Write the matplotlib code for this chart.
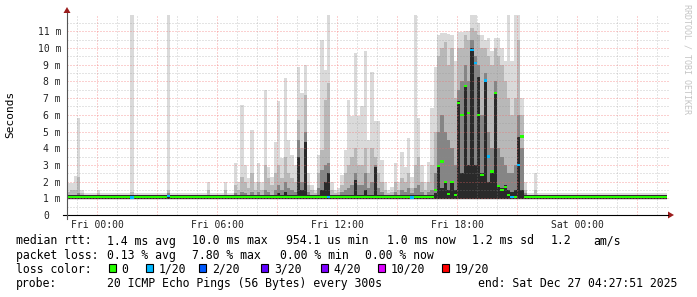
import numpy as np
import matplotlib
matplotlib.use("Agg")
from matplotlib import pyplot as plt
from matplotlib.patches import Polygon, Rectangle

# time axis: 10 minute bins, minutes relative to Fri 00:00
start_minute = -90
bin_minutes = 10
n_bins = 180

# quiet periods (ms)
base_top = 1.3
base_upper = 1.22
base_mid = 1.2
base_dark = 1.2
base_median = 1.1
# lower edge of every smoke layer (ms)
floor_top, floor_upper, floor_mid, floor_dark = 0.88, 0.95, 0.97, 0.98

# bins where the smoke leaves the baseline
spike_minute = [-90, -80, -70, -60, -50, 0, 100, 210, 330, 380] + list(range(410, 1290, 10)) + [1310]
spike_top = [1.9, 1.9, 2.35, 5.8, 1.5, 1.5, 12.0, 12.0, 2.0, 2.0,
             3.1, 2.0, 6.6, 3.0, 2.2, 5.1, 2.0, 3.1, 2.0, 7.5,
             2.9, 2.3, 4.4, 6.8, 3.4, 8.2, 4.5, 3.6, 3.0, 8.85,
             7.3, 9.0, 2.5, 1.8, 1.5, 3.6, 10.5, 8.7, 12.0, 2.0,
             1.5, 1.6, 2.4, 3.9, 6.9, 5.9, 9.7, 5.9, 6.5, 9.85,
             4.5, 8.55, 5.6, 5.6, 3.3, 2.0, 1.5, 1.7, 3.1, 2.0,
             3.8, 2.9, 4.6, 2.3, 12.0, 5.8, 3.0, 2.0, 3.2, 6.4,
             8.85, 10.75, 10.9, 10.9, 10.85, 10.75, 9.25, 10.95, 10.95, 11.0,
             11.0, 12.0, 12.0, 11.5, 10.8, 10.5, 10.6, 9.8, 10.6, 10.6,
             10.0, 9.25, 12.0, 9.25, 12.0, 12.0, 7.0, 2.0,
             2.5]
spike_upper = [1.4, 1.5, 1.5, 2.3, 1.3, 1.3, 1.4, 1.5, 1.5, 1.5,
               1.8, 1.5, 2.3, 2.0, 1.6, 2.5, 1.5, 2.0, 1.5, 3.0,
               2.2, 1.8, 2.5, 3.0, 2.2, 3.5, 2.5, 2.2, 2.0, 5.7,
               4.0, 7.2, 1.8, 1.5, 1.3, 2.5, 3.9, 6.9, 7.9, 1.5,
               1.3, 1.4, 1.8, 2.5, 3.0, 3.5, 4.0, 3.0, 3.0, 4.0,
               2.5, 4.0, 3.5, 2.5, 2.0, 1.5, 1.3, 1.4, 2.0, 1.5,
               2.2, 2.0, 2.5, 1.6, 3.0, 3.5, 2.0, 1.5, 2.0, 3.0,
               5.0, 9.5, 10.0, 10.35, 9.0, 10.0, 7.0, 10.0, 10.0, 10.8,
               10.5, 11.2, 11.0, 10.8, 10.0, 10.0, 9.5, 9.0, 10.0, 9.5,
               9.0, 8.0, 7.0, 6.0, 7.0, 10.5, 6.0, 1.5,
               1.5]
spike_mid = [1.2, 1.2, 1.2, 1.3, 1.2, 1.2, 1.2, 1.3, 1.2, 1.2,
             1.3, 1.2, 1.4, 1.3, 1.2, 1.4, 1.2, 1.4, 1.2, 1.5,
             1.4, 1.2, 1.5, 1.8, 1.5, 2.0, 1.6, 1.5, 1.4, 4.5,
             2.0, 5.0, 1.4, 1.2, 1.2, 1.6, 2.7, 3.0, 3.1, 1.2,
             1.2, 1.2, 1.4, 1.5, 1.6, 1.8, 2.5, 1.8, 1.8, 2.5,
             1.6, 2.0, 3.0, 1.6, 1.4, 1.2, 1.2, 1.2, 1.4, 1.2,
             1.5, 1.4, 1.6, 1.3, 1.6, 1.8, 1.4, 1.2, 1.4, 1.5,
             2.5, 5.0, 6.0, 5.0, 4.5, 4.0, 3.0, 7.5, 8.0, 9.0,
             8.0, 10.5, 9.5, 9.0, 6.0, 8.5, 5.0, 4.0, 8.0, 4.0,
             3.5, 3.0, 2.5, 2.5, 3.0, 6.0, 4.0, 1.3,
             1.2]
spike_dark = [1.2, 1.2, 1.2, 1.2, 1.2, 1.2, 1.2, 1.2, 1.2, 1.2,
              1.2, 1.2, 1.2, 1.2, 1.2, 1.2, 1.2, 1.2, 1.2, 1.2,
              1.2, 1.2, 1.2, 1.3, 1.2, 1.4, 1.2, 1.2, 1.2, 3.5,
              1.5, 4.4, 1.2, 1.2, 1.2, 1.2, 1.5, 2.0, 2.5, 1.2,
              1.2, 1.2, 1.2, 1.2, 1.2, 1.2, 2.1, 1.2, 1.2, 1.5,
              1.2, 1.2, 2.9, 1.2, 1.2, 1.2, 1.2, 1.2, 1.2, 1.2,
              1.2, 1.2, 1.2, 1.2, 1.2, 1.2, 1.2, 1.2, 1.2, 1.2,
              1.3, 3.0, 1.6, 2.0, 1.5, 2.0, 1.5, 6.8, 2.5, 7.8,
              3.0, 10.0, 3.0, 8.25, 2.5, 8.05, 2.0, 2.6, 7.35, 1.8,
              1.6, 1.8, 1.5, 1.4, 1.5, 4.7, 1.5, 1.2,
              1.2]
spike_median = [1.1, 1.1, 1.1, 1.1, 1.1, 1.1, 1.05, 1.15, 1.1, 1.1,
                1.1, 1.1, 1.1, 1.1, 1.1, 1.1, 1.1, 1.1, 1.1, 1.1,
                1.1, 1.1, 1.1, 1.1, 1.1, 1.1, 1.1, 1.1, 1.1, 1.1,
                1.1, 1.1, 1.1, 1.1, 1.1, 1.1, 1.1, 1.1, 1.1, 1.1,
                1.1, 1.1, 1.1, 1.1, 1.1, 1.1, 1.1, 1.1, 1.1, 1.1,
                1.1, 1.1, 1.1, 1.1, 1.1, 1.1, 1.1, 1.1, 1.1, 1.1,
                1.1, 1.1, 1.1, 1.05, 1.1, 1.1, 1.1, 1.1, 1.1, 1.1,
                1.5, 2.95, 3.2, 2.0, 1.25, 2.0, 1.2, 6.7, 6.0, 7.7,
                6.1, 9.9, 9.1, 6.0, 2.4, 8.05, 3.5, 2.6, 7.3, 1.75,
                1.5, 1.7, 1.2, 1.1, 1.1, 3.0, 4.7, 1.1,
                1.1]
spike_loss = [0, 0, 0, 0, 0, 0, 1, 1, 0, 0,
              0, 0, 0, 0, 0, 0, 0, 0, 0, 0,
              0, 0, 0, 0, 0, 0, 0, 0, 0, 0,
              0, 0, 0, 0, 0, 0, 0, 0, 1, 0,
              0, 0, 0, 0, 0, 0, 0, 0, 0, 0,
              0, 0, 0, 0, 0, 0, 0, 0, 0, 0,
              0, 0, 0, 1, 0, 0, 0, 0, 0, 0,
              0, 0, 0, 0, 0, 0, 0, 0, 0, 0,
              0, 1, 1, 0, 0, 1, 1, 0, 0, 0,
              0, 0, 0, 1, 0, 1, 0, 0,
              0]

loss_levels = [0, 1, 2, 3, 4, 10, 19]
loss_labels = ["0", "1/20", "2/20", "3/20", "4/20", "10/20", "19/20"]
loss_colors = ["#26ff00", "#00b8ff", "#0059ff", "#5e00ff", "#7e00ff", "#dd00ff", "#ff0000"]

x_labels = ["Fri 00:00", "Fri 06:00", "Fri 12:00", "Fri 18:00", "Sat 00:00"]
x_label_hours = [0, 6, 12, 18, 24]

rtt_texts = ["median rtt:", "1.4 ms avg", "10.0 ms max", "954.1 us min", "1.0 ms now",
             "1.2 ms sd", "1.2", "am/s"]
loss_texts = ["packet loss:", "0.13 % avg", "7.80 % max", "0.00 % min", "0.00 % now"]
probe_texts = ["probe:", "20 ICMP Echo Pings (56 Bytes) every 300s", "end: Sat Dec 27 04:27:51 2025"]

# ---- build the series
edges = (start_minute + bin_minutes * np.arange(n_bins + 1)) / 60.0
idx = (np.array(spike_minute) - start_minute) // bin_minutes
top = np.full(n_bins, base_top)
upper = np.full(n_bins, base_upper)
mid = np.full(n_bins, base_mid)
dark = np.full(n_bins, base_dark)
median = np.full(n_bins, base_median)
loss = np.zeros(n_bins, dtype=int)
top[idx] = spike_top
upper[idx] = spike_upper
mid[idx] = spike_mid
dark[idx] = spike_dark
median[idx] = spike_median
loss[idx] = spike_loss

mono = "DejaVu Sans Mono"
W, H = 697, 297
fig = plt.figure(figsize=(W / 100, H / 100), dpi=100)
fig.patch.set_facecolor("white")

px_per_ms = 16.7
ax = fig.add_axes([67 / W, 82 / H, 600 / W, 12 * px_per_ms / H])
ax.set_xlim(-1.5, 28.5)
ax.set_ylim(0, 12)
ax.set_axis_off()

# smoke
ax.stairs(top, edges, baseline=floor_top, fill=True, color="#dadada", lw=0, zorder=1)
ax.stairs(upper, edges, baseline=floor_upper, fill=True, color="#b8b8b8", lw=0, zorder=1.1)
ax.stairs(mid, edges, baseline=floor_mid, fill=True, color="#858585", lw=0, zorder=1.2)
ax.stairs(dark, edges, baseline=floor_dark, fill=True, color="#2a2a2a", lw=0, zorder=1.3)

# grid on top of the smoke
dots = (0, (1, 2))
for h in range(-1, 29):
    c = (0.95, 0.4, 0.4, 0.6) if h % 3 == 0 else (0.55, 0.55, 0.55, 0.45)
    ax.axvline(h, color=c, lw=0.72, ls=dots, zorder=2)
for v in np.arange(0.5, 12, 0.5):
    c = (0.95, 0.4, 0.4, 0.6) if v % 1 == 0 else (0.55, 0.55, 0.55, 0.45)
    ax.axhline(v, xmax=601 / 600, color=c, lw=0.72, ls=dots, zorder=2, clip_on=False)

# median coloured by loss
band = 0.065
med_colors = [loss_colors[loss_levels.index(l)] for l in loss]
ax.bar(edges[:-1], 2 * band, width=bin_minutes / 60, bottom=median - band, align="edge",
       color=med_colors, linewidth=0, zorder=3)

# tick labels
ytr = ax.get_yaxis_transform()
for v in range(0, 12):
    lab = "0" if v == 0 else f"{v} m"
    xoff = -6 / 600 if v else -18 / 600
    ax.text(xoff, v, lab, transform=ytr, ha="right", va="center_baseline",
            fontsize=7, family=mono, color="#222222")
xtr = ax.get_xaxis_transform()
for h, lab in zip(x_label_hours, x_labels):
    ax.text(h, -12.8 / 200.4, lab, transform=xtr, ha="center", va="baseline",
            fontsize=7, family=mono, color="#222222")

# overlay in pixel coordinates for axes, arrows and legend
ov = fig.add_axes([0, 0, 1, 1])
ov.set_xlim(0, W)
ov.set_ylim(H, 0)
ov.set_axis_off()

ov.plot([63, 668], [215, 215], color="black", lw=0.8)
ov.plot([67, 67], [219, 13], color="#555555", lw=0.8)
arrow_c = "#9b1c1c"
ov.add_patch(Polygon([[668, 211.5], [668, 218.5], [674, 215]], closed=True, color=arrow_c, lw=0))
ov.add_patch(Polygon([[63.5, 13], [70.5, 13], [67, 7]], closed=True, color=arrow_c, lw=0))

ov.text(10, 114, "Seconds", rotation=90, ha="center", va="center", fontsize=8, family=mono)
ov.text(687, 59, "RRDTOOL / TOBI OETIKER", rotation=270, ha="center", va="center",
        fontsize=6, family=mono, color="#c4c4c4")

fs = 8.3
rtt_x = [16, 107, 192, 286, 387, 472, 551, 593]
for x, t in zip(rtt_x, rtt_texts):
    ov.text(x, 244.5, t, ha="left", va="baseline", fontsize=fs, family=mono)
loss_x = [16, 107, 192, 279.5, 365]
for x, t in zip(loss_x, loss_texts):
    ov.text(x, 258.7, t, ha="left", va="baseline", fontsize=fs, family=mono)
ov.text(16, 272.8, "loss color:", ha="left", va="baseline", fontsize=fs, family=mono)
box_x = [108.5, 146, 199.3, 261.3, 321.3, 378, 442]
for x, lab, c in zip(box_x, loss_labels, loss_colors):
    ov.add_patch(Rectangle((x, 264.3), 7, 8, facecolor=c, edgecolor="black", lw=0.8))
    ov.text(x + 12.5, 272.8, lab, ha="left", va="baseline", fontsize=fs, family=mono)
probe_x = [16, 107, 478]
for x, t in zip(probe_x, probe_texts):
    ov.text(x, 287, t, ha="left", va="baseline", fontsize=fs, family=mono)

fig.savefig("out.png", dpi=100, facecolor="white")
